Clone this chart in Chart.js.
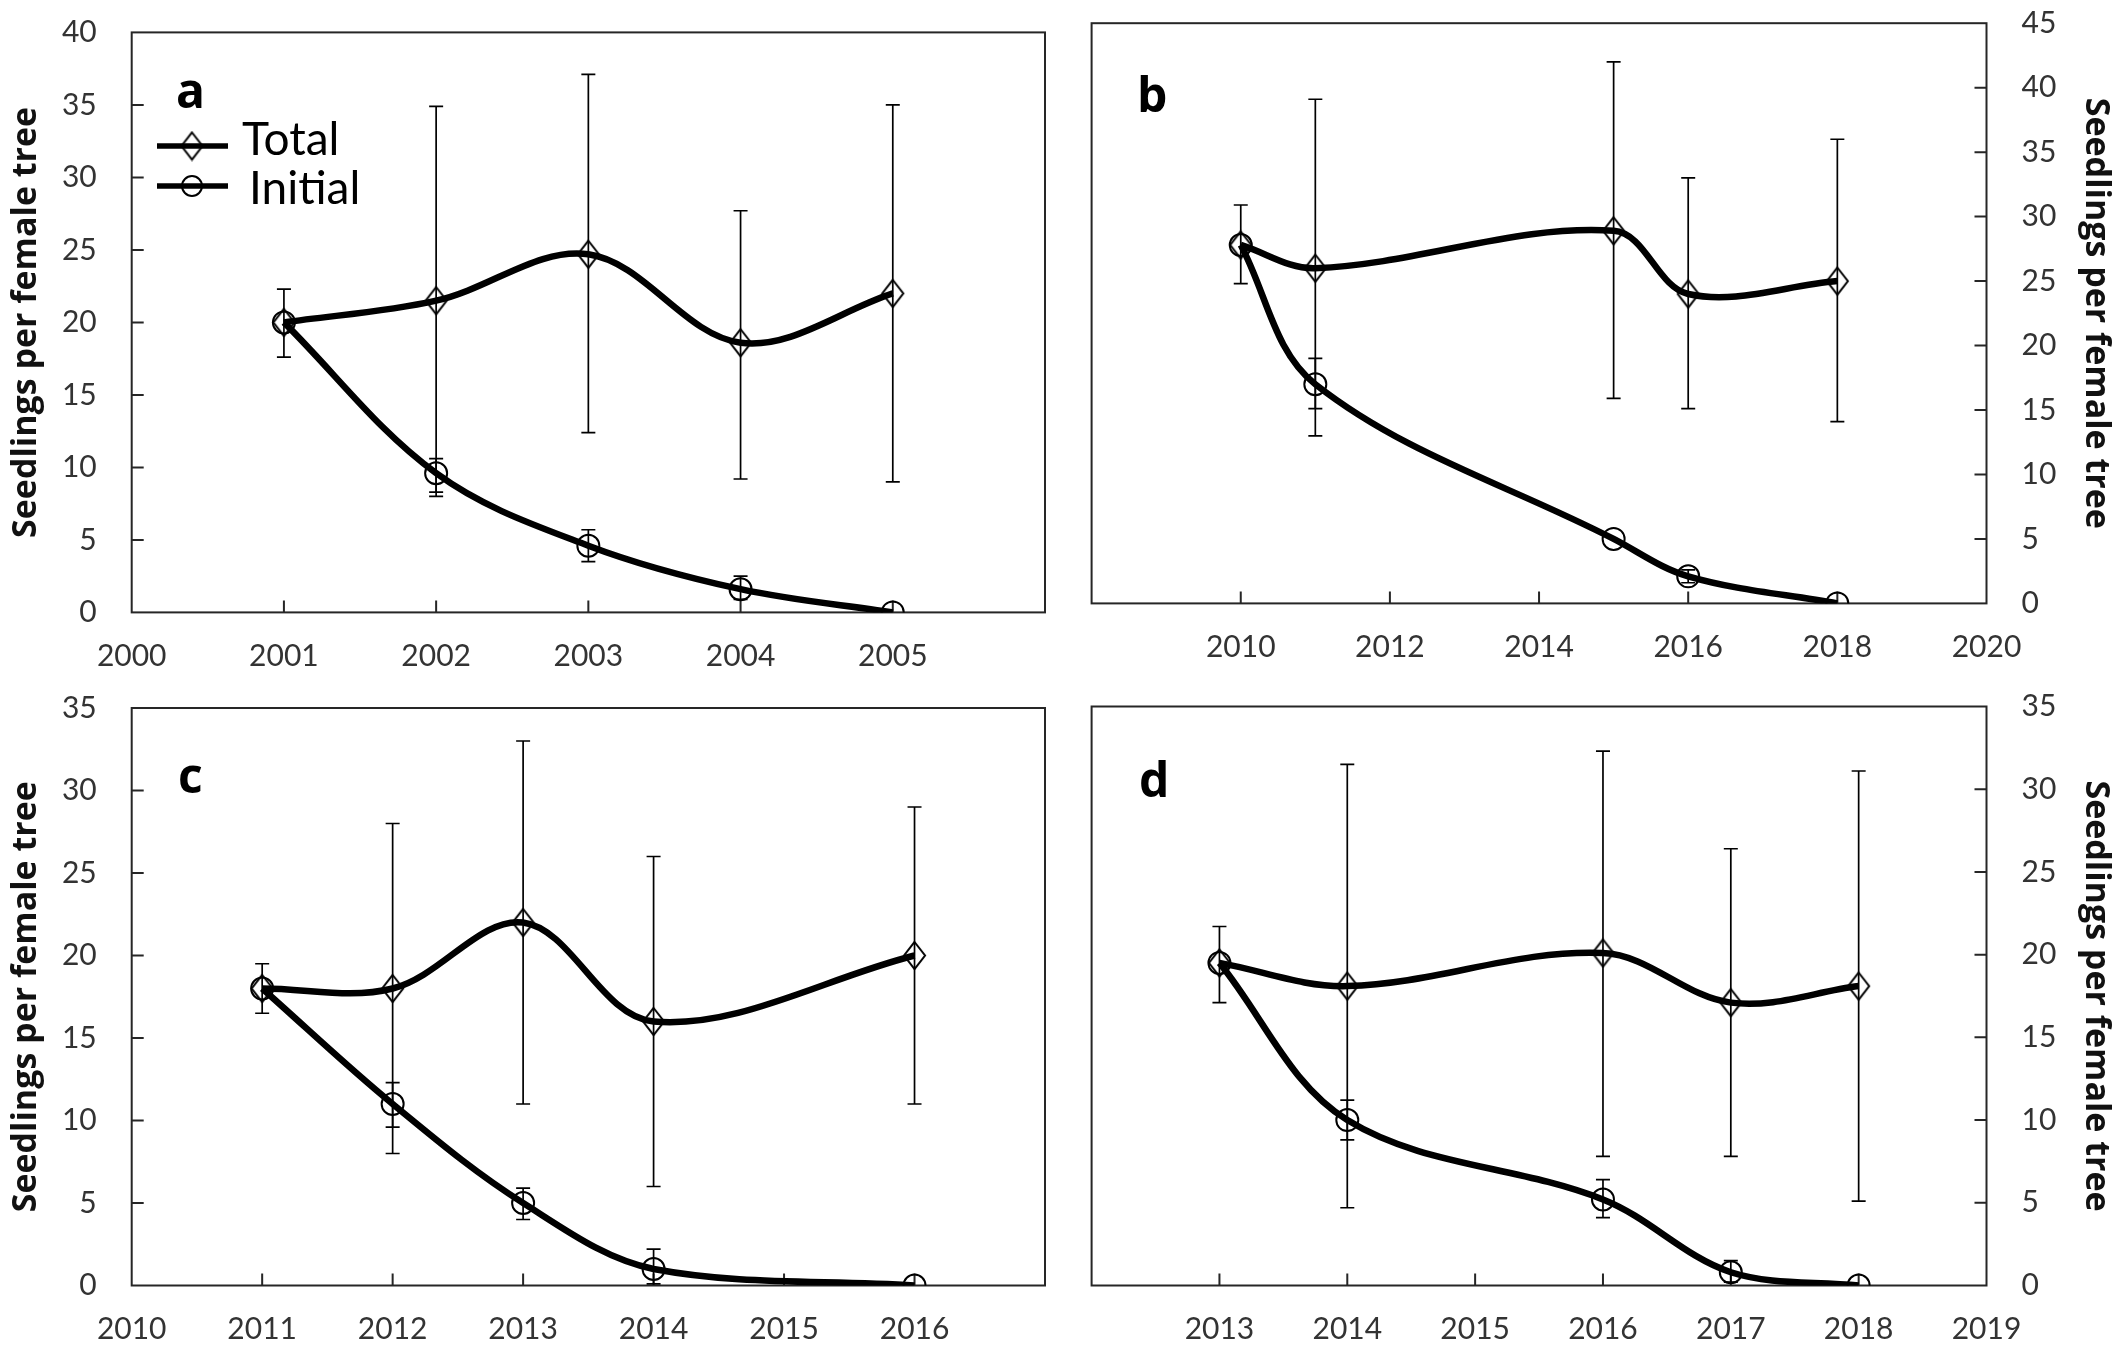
<!DOCTYPE html>
<html>
<head>
<meta charset="utf-8">
<script src="https://cdn.jsdelivr.net/npm/chart.js@4.4.1/dist/chart.umd.min.js"></script>
<style>
  html, body { margin: 0; padding: 0; background: #fff; }
  #wrap { position: relative; width: 2126px; height: 1370px; }
  #wrap canvas { position: absolute; left: 0; top: 0; }
</style>
</head>
<body>
<div id="wrap">
  <canvas id="panelA" width="2126" height="1370"></canvas>
  <canvas id="panelB" width="2126" height="1370"></canvas>
  <canvas id="panelC" width="2126" height="1370"></canvas>
  <canvas id="panelD" width="2126" height="1370"></canvas>
</div>
<script>
// panel a
const aYears = [2001, 2002, 2003, 2004, 2005];
const aTotal = [20, 21.5, 24.7, 18.6, 22];
const aTotalLo = [17.6, 8.3, 12.4, 9.2, 9.0];
const aTotalHi = [22.3, 34.9, 37.1, 27.7, 35.0];
const aInitial = [20, 9.6, 4.6, 1.6, 0];
const aInitialLo = [null, 8.0, 3.5, 0.9, null];
const aInitialHi = [null, 10.6, 5.7, 2.5, null];
const aXTicks = [2000, 2001, 2002, 2003, 2004, 2005];
const aYTicks = [0, 5, 10, 15, 20, 25, 30, 35, 40];

// panel b
const bYears = [2010, 2011, 2015, 2016, 2018];
const bTotal = [27.8, 26.0, 28.9, 24.0, 25.0];
const bTotalLo = [24.8, 13.0, 15.9, 15.1, 14.1];
const bTotalHi = [30.9, 39.1, 42.0, 33.0, 36.0];
const bInitial = [27.8, 17.0, 5.0, 2.1, 0];
const bInitialLo = [null, 15.1, null, 1.6, null];
const bInitialHi = [null, 19.0, null, 2.6, null];
const bXTicks = [2010, 2012, 2014, 2016, 2018, 2020];
const bYTicks = [0, 5, 10, 15, 20, 25, 30, 35, 40, 45];

// panel c
const cYears = [2011, 2012, 2013, 2014, 2016];
const cTotal = [18, 18, 22, 16, 20];
const cTotalLo = [16.5, 8.0, 11.0, 6.0, 11.0];
const cTotalHi = [19.5, 28.0, 33.0, 26.0, 29.0];
const cInitial = [18, 11, 5, 1, 0];
const cInitialLo = [null, 9.6, 4.0, 0.1, null];
const cInitialHi = [null, 12.3, 5.9, 2.2, null];
const cXTicks = [2010, 2011, 2012, 2013, 2014, 2015, 2016];
const cYTicks = [0, 5, 10, 15, 20, 25, 30, 35];

// panel d
const dYears = [2013, 2014, 2016, 2017, 2018];
const dTotal = [19.5, 18.1, 20.1, 17.1, 18.1];
const dTotalLo = [17.1, 4.7, 7.8, 7.8, 5.1];
const dTotalHi = [21.7, 31.5, 32.3, 26.4, 31.1];
const dInitial = [19.5, 10.0, 5.2, 0.8, 0];
const dInitialLo = [null, 8.8, 4.1, 0.2, null];
const dInitialHi = [null, 11.2, 6.4, 1.5, null];
const dXTicks = [2013, 2014, 2015, 2016, 2017, 2018, 2019];
const dYTicks = [0, 5, 10, 15, 20, 25, 30, 35];

const seriesNames = ['Total', 'Initial'];
const yTitle = 'Seedlings per female tree';

function diamondMark(w, h, lw) {
  const c = document.createElement('canvas');
  c.width = w + lw * 2;
  c.height = h + lw * 2;
  const g = c.getContext('2d');
  const cx = c.width / 2, cy = c.height / 2;
  g.strokeStyle = '#000';
  g.lineWidth = lw;
  g.beginPath();
  g.moveTo(cx, cy - h / 2);
  g.lineTo(cx + w / 2, cy);
  g.lineTo(cx, cy + h / 2);
  g.lineTo(cx - w / 2, cy);
  g.closePath();
  g.stroke();
  return c;
}
const diamond = diamondMark(21, 27, 2);

// frame, inward tick marks, error bars, panel letter, legend
const decor = {
  id: 'decor',
  beforeDatasetsDraw(chart) {
    const { ctx, chartArea: ca, scales: { x, y } } = chart;
    const o = chart.options.plugins.decor;
    ctx.save();
    ctx.strokeStyle = '#262626';
    ctx.lineWidth = 2;
    ctx.strokeRect(ca.left, ca.top, ca.right - ca.left, ca.bottom - ca.top);
    ctx.beginPath();
    x.ticks.forEach(t => {
      if (t.value <= x.min || t.value >= x.max) return;
      const px = x.getPixelForValue(t.value);
      ctx.moveTo(px, ca.bottom);
      ctx.lineTo(px, ca.bottom - 12);
    });
    y.ticks.forEach(t => {
      if (t.value <= y.min || t.value >= y.max) return;
      const py = y.getPixelForValue(t.value);
      if (o.side === 'left') { ctx.moveTo(ca.left, py); ctx.lineTo(ca.left + 12, py); }
      else { ctx.moveTo(ca.right, py); ctx.lineTo(ca.right - 12, py); }
    });
    ctx.stroke();

    ctx.strokeStyle = '#000';
    ctx.lineWidth = 1.7;
    chart.data.datasets.forEach(ds => {
      ds.data.forEach((pt, i) => {
        const lo = ds.errLo[i], hi = ds.errHi[i];
        if (lo == null || hi == null) return;
        const px = x.getPixelForValue(pt.x);
        const p1 = y.getPixelForValue(lo), p2 = y.getPixelForValue(hi);
        ctx.beginPath();
        ctx.moveTo(px, p1); ctx.lineTo(px, p2);
        ctx.moveTo(px - 7, p1); ctx.lineTo(px + 7, p1);
        ctx.moveTo(px - 7, p2); ctx.lineTo(px + 7, p2);
        ctx.stroke();
      });
    });
    ctx.restore();
  },
  afterDraw(chart) {
    const ctx = chart.ctx;
    const o = chart.options.plugins.decor;
    ctx.save();
    ctx.fillStyle = '#000';
    ctx.font = 'bold 48px "Open Sans"';
    ctx.textBaseline = 'alphabetic';
    ctx.textAlign = 'left';
    ctx.fillText(o.letter, o.letterAt[0], o.letterAt[1]);

    if (o.legend) {
      const rows = [[146, 140], [186, 189]];
      ctx.font = '46px Lato';
      ctx.textBaseline = 'middle';
      rows.forEach(([ly, ty], i) => {
        ctx.strokeStyle = '#000';
        ctx.lineWidth = 5.5;
        ctx.beginPath();
        ctx.moveTo(157, ly); ctx.lineTo(228, ly);
        ctx.stroke();
        if (i === 0) {
          ctx.drawImage(diamond, 192 - diamond.width / 2, ly - diamond.height / 2);
        } else {
          ctx.lineWidth = 2;
          ctx.beginPath();
          ctx.arc(192, ly, 10, 0, Math.PI * 2);
          ctx.stroke();
        }
        ctx.fillText(seriesNames[i], i === 0 ? 242 : 249, ty);
      });
    }
    ctx.restore();
  }
};

function points(xs, ys) {
  return xs.map((v, i) => ({ x: v, y: ys[i] }));
}

function makePanel(p) {
  const tickFont = { family: 'Lato', size: 30 };
  return new Chart(document.getElementById(p.id), {
    type: 'scatter',
    data: {
      datasets: [
        {
          label: seriesNames[0], data: points(p.years, p.total), errLo: p.totalLo, errHi: p.totalHi,
          showLine: true, borderColor: '#000', borderWidth: 6.5, tension: 0.35,
          pointStyle: diamond, pointRadius: 13
        },
        {
          label: seriesNames[1], data: points(p.years, p.initial), errLo: p.initialLo, errHi: p.initialHi,
          showLine: true, borderColor: '#000', borderWidth: 6.5, tension: 0.35,
          pointStyle: 'circle', pointRadius: 11, pointBorderWidth: 2,
          pointBorderColor: '#000', pointBackgroundColor: 'rgba(0,0,0,0)'
        }
      ]
    },
    options: {
      responsive: false,
      animation: false,
      devicePixelRatio: 1,
      layout: { padding: p.pad },
      scales: {
        x: {
          type: 'linear', min: p.xRange[0], max: p.xRange[1],
          afterBuildTicks: s => { s.ticks = p.xTicks.map(v => ({ value: v })); },
          afterFit: s => { s.height = 60; s.paddingLeft = 0; s.paddingRight = 0; },
          grid: { display: false, drawTicks: false },
          border: { display: false },
          ticks: { autoSkip: false, maxRotation: 0, padding: 26, color: '#333', font: tickFont, callback: v => String(v) }
        },
        y: {
          type: 'linear', position: p.side, min: p.yTicks[0], max: p.yTicks[p.yTicks.length - 1],
          afterBuildTicks: s => { s.ticks = p.yTicks.map(v => ({ value: v })); },
          afterFit: s => { s.width = p.axisW; s.paddingTop = 0; s.paddingBottom = 0; },
          grid: { display: false, drawTicks: false },
          border: { display: false },
          ticks: { autoSkip: false, padding: 35, color: '#333', font: tickFont, callback: v => String(v) },
          title: {
            display: true, text: yTitle, color: '#111',
            font: { family: 'Open Sans', size: 34, weight: 'bold' },
            padding: { top: p.titlePad, bottom: 0 }
          }
        }
      },
      plugins: {
        legend: { display: false },
        tooltip: { enabled: false },
        decor: { side: p.side, letter: p.letter, letterAt: p.letterAt, legend: p.legend }
      }
    },
    plugins: [decor]
  });
}

makePanel({
  id: 'panelA', letter: 'a', letterAt: [176, 108], legend: true, side: 'left', axisW: 131.7, titlePad: 5.6,
  pad: { left: 0, top: 32.4, right: 1081, bottom: 697.6 },
  years: aYears, total: aTotal, totalLo: aTotalLo, totalHi: aTotalHi,
  initial: aInitial, initialLo: aInitialLo, initialHi: aInitialHi,
  xRange: [2000, 2006], xTicks: aXTicks, yTicks: aYTicks
});
makePanel({
  id: 'panelB', letter: 'b', letterAt: [1137, 112], legend: false, side: 'right', axisW: 139.5, titlePad: 9.6,
  pad: { left: 1091.6, top: 23.2, right: 0, bottom: 706.6 },
  years: bYears, total: bTotal, totalLo: bTotalLo, totalHi: bTotalHi,
  initial: bInitial, initialLo: bInitialLo, initialHi: bInitialHi,
  xRange: [2008, 2020], xTicks: bXTicks, yTicks: bYTicks
});
makePanel({
  id: 'panelC', letter: 'c', letterAt: [178, 793], legend: false, side: 'left', axisW: 131.7, titlePad: 5.6,
  pad: { left: 0, top: 708, right: 1081, bottom: 24.5 },
  years: cYears, total: cTotal, totalLo: cTotalLo, totalHi: cTotalHi,
  initial: cInitial, initialLo: cInitialLo, initialHi: cInitialHi,
  xRange: [2010, 2017], xTicks: cXTicks, yTicks: cYTicks
});
makePanel({
  id: 'panelD', letter: 'd', letterAt: [1139, 797], legend: false, side: 'right', axisW: 139.5, titlePad: 9.6,
  pad: { left: 1091.6, top: 706.5, right: 0, bottom: 24.5 },
  years: dYears, total: dTotal, totalLo: dTotalLo, totalHi: dTotalHi,
  initial: dInitial, initialLo: dInitialLo, initialHi: dInitialHi,
  xRange: [2012, 2019], xTicks: dXTicks, yTicks: dYTicks
});
</script>
</body>
</html>
